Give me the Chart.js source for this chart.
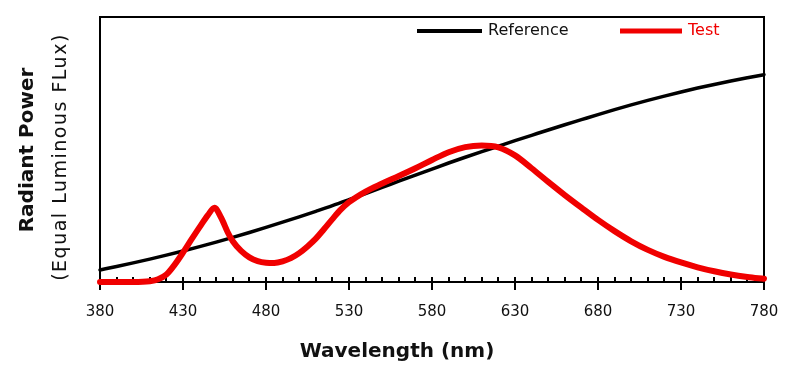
<!DOCTYPE html>
<html><head><meta charset="utf-8">
<script src="https://cdn.jsdelivr.net/npm/chart.js@4/dist/chart.umd.min.js"></script>
<style>html,body{margin:0;padding:0;background:#fff}#wrap{width:797px;height:380px;position:relative}</style>
</head><body><div id="wrap"><canvas id="c" width="797" height="380"></canvas></div>
<script>
// Wavelength grid for the reference (black) curve, nm
const refWavelengths = [380,390,400,410,420,430,440,450,460,470,480,490,500,510,520,530,540,550,560,570,580,590,600,610,620,630,640,650,660,670,680,690,700,710,720,730,740,750,760,770,780];
const refValues = [4.5,5.8,7.15,8.55,10.05,11.6,13.2,14.9,16.65,18.5,20.4,22.35,24.35,26.4,28.5,30.75,33.05,35.35,37.65,39.95,42.2,44.45,46.6,48.7,50.75,52.8,54.8,56.8,58.75,60.65,62.55,64.4,66.15,67.85,69.45,71.0,72.45,73.8,75.1,76.3,77.45];
// Test (red) spectrum
const testWavelengths = [380,390,400,410,415,420,425,430,435,440,445,449,453,457,460,465,470,475,480,485,490,495,500,505,510,515,520,525,530,540,550,560,570,580,590,600,610,620,630,640,650,660,670,680,690,700,710,720,730,740,750,760,770,780];
const testValues = [0,0,0,0.3,1.0,2.8,6.5,11.0,15.8,20.5,25.0,27.7,24.0,18.5,15.2,11.6,9.2,7.8,7.2,7.1,7.7,8.9,10.8,13.3,16.2,19.8,23.5,27.0,29.8,33.8,36.8,39.6,42.5,45.6,48.5,50.4,51.0,50.3,47.3,42.5,37.4,32.5,27.8,23.2,19.0,15.2,12.0,9.4,7.3,5.5,4.0,2.8,1.9,1.2];
const xTickValues = [380,430,480,530,580,630,680,730,780];
const seriesNames = ['Reference','Test'];
const seriesColors = ['#000000','#f00000'];
const xTitle = 'Wavelength (nm)';
const yTitle1 = 'Radiant Power';
const yTitle2 = '(Equal Luminous FLux)';

const FONT = '"DejaVu Sans", sans-serif';

const framePlugin = {
  id: 'frame',
  beforeDatasetsDraw(chart) {
    const {ctx, chartArea: a, scales: {x}} = chart;
    ctx.save();
    ctx.strokeStyle = '#000';
    ctx.lineWidth = 2;
    ctx.beginPath();
    ctx.moveTo(a.left, a.top); ctx.lineTo(a.right, a.top); ctx.lineTo(a.right, a.bottom);
    ctx.stroke();
    // minor ticks pointing inward
    ctx.beginPath();
    for (let v = x.min; v <= x.max; v += 10) {
      const px = Math.round(x.getPixelForValue(v));
      ctx.moveTo(px, a.bottom); ctx.lineTo(px, a.bottom - 5);
    }
    ctx.stroke();
    ctx.restore();
  },
  afterDraw(chart) {
    const {ctx} = chart;
    // y titles
    ctx.save();
    ctx.fillStyle = '#111';
    ctx.textAlign = 'center';
    ctx.textBaseline = 'middle';
    ctx.translate(28, 150);
    ctx.rotate(-Math.PI / 2);
    ctx.font = 'bold 20px ' + FONT;
    ctx.fillText(yTitle1, 0, 0);
    ctx.restore();
    ctx.save();
    ctx.fillStyle = '#111';
    ctx.textAlign = 'center';
    ctx.textBaseline = 'middle';
    ctx.translate(61, 157);
    ctx.rotate(-Math.PI / 2);
    ctx.font = '19px ' + FONT;
    try { ctx.letterSpacing = '1.5px'; } catch (e) {}
    ctx.fillText(yTitle2, 0, 0);
    ctx.restore();
    // x title
    ctx.save();
    ctx.fillStyle = '#111';
    ctx.textAlign = 'center';
    ctx.textBaseline = 'middle';
    ctx.font = 'bold 20px ' + FONT;
    ctx.fillText(xTitle, 397, 352);
    ctx.restore();
    // legend
    ctx.save();
    const items = [{x0: 417, x1: 482, tx: 488}, {x0: 620, x1: 682, tx: 688}];
    chart.data.datasets.forEach((ds, i) => {
      const it = items[i];
      ctx.strokeStyle = ds.borderColor;
      ctx.lineWidth = i === 0 ? 4 : 5;
      ctx.beginPath(); ctx.moveTo(it.x0, 31); ctx.lineTo(it.x1, 31); ctx.stroke();
      ctx.fillStyle = i === 0 ? '#111' : ds.borderColor;
      ctx.font = '16px ' + FONT;
      ctx.textAlign = 'left';
      ctx.textBaseline = 'middle';
      ctx.fillText(ds.label, it.tx, 31);
    });
    ctx.restore();
  }
};

new Chart(document.getElementById('c'), {
  type: 'line',
  data: {
    datasets: [
      {label: seriesNames[0], data: refWavelengths.map((w, i) => ({x: w, y: refValues[i]})), borderColor: seriesColors[0], borderWidth: 3.5, order: 2},
      {label: seriesNames[1], data: testWavelengths.map((w, i) => ({x: w, y: testValues[i]})), borderColor: seriesColors[1], borderWidth: 6, order: 1}
    ]
  },
  options: {
    responsive: false,
    animation: false,
    devicePixelRatio: 1,
    clip: false,
    elements: {point: {radius: 0}, line: {cubicInterpolationMode: 'monotone', fill: false, borderCapStyle: 'round', borderJoinStyle: 'round'}},
    layout: {padding: {top: 17, right: 33, left: 0, bottom: 0}},
    plugins: {legend: {display: false}, tooltip: {enabled: false}},
    scales: {
      x: {
        type: 'linear', min: 380, max: 780,
        afterFit: s => { s.height = 98; },
        afterBuildTicks: s => { const t = []; for (let v = 380; v <= 780; v += 10) t.push({value: v}); s.ticks = t; },
        ticks: {autoSkip: false, maxRotation: 0, padding: 13, color: '#111',
          font: {family: FONT, size: 15},
          callback: v => xTickValues.includes(v) ? String(v) : ''},
        grid: {display: true, drawOnChartArea: false, drawTicks: true, tickLength: 8, lineWidth: 2,
          color: c => (c.tick && xTickValues.includes(c.tick.value)) ? '#000' : 'rgba(0,0,0,0)'},
        border: {display: true, color: '#000', width: 2},
        title: {display: false}
      },
      y: {
        min: 0, max: 99,
        afterFit: s => { s.width = 100; },
        ticks: {display: false},
        grid: {display: false},
        border: {display: true, color: '#000', width: 2}
      }
    }
  },
  plugins: [framePlugin]
});
</script>
</body></html>
